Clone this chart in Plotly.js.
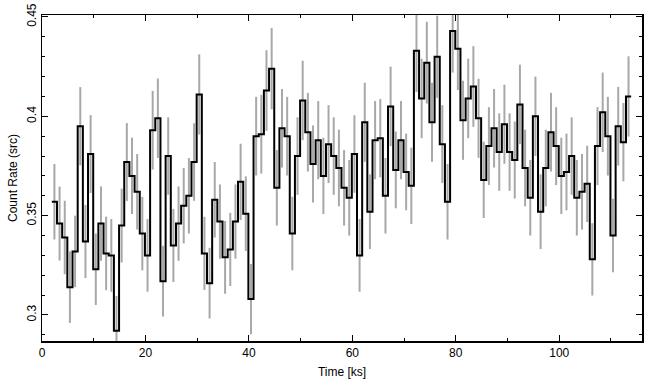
<!DOCTYPE html>
<html>
<head>
<meta charset="utf-8">
<script src="https://cdn.plot.ly/plotly-3.0.1.min.js"></script>
<style>html,body{margin:0;padding:0;background:#fff;}#plot{width:655px;height:389px;}</style>
</head>
<body>
<div id="plot"></div>
<script>
// Bin centres (ks)
var time = [2.4,3.4,4.4,5.4,6.4,7.4,8.4,9.4,10.4,11.4,12.4,13.4,14.4,15.4,16.4,17.4,18.4,19.4,20.4,21.4,
22.4,23.4,24.4,25.4,26.4,27.4,28.4,29.4,30.4,31.4,32.4,33.4,34.4,35.4,36.4,37.4,38.4,39.4,40.4,41.4,
42.4,43.4,44.4,45.4,46.4,47.4,48.4,49.4,50.4,51.4,52.4,53.4,54.4,55.4,56.4,57.4,58.4,59.4,60.4,61.4,
62.4,63.4,64.4,65.4,66.4,67.4,68.4,69.4,70.4,71.4,72.4,73.4,74.4,75.4,76.4,77.4,78.4,79.4,80.4,81.4,
82.4,83.4,84.4,85.4,86.4,87.4,88.4,89.4,90.4,91.4,92.4,93.4,94.4,95.4,96.4,97.4,98.4,99.4,100.4,101.4,
102.4,103.4,104.4,105.4,106.4,107.4,108.4,109.4,110.4,111.4,112.4,113.4];
var binWidth = 1.0;
// Count rate (src)
var rate = [0.357,0.346,0.339,0.314,0.332,0.395,0.337,0.381,0.323,0.346,0.331,0.330,0.292,0.345,0.377,0.370,0.362,0.341,0.330,0.393,
0.399,0.317,0.380,0.335,0.346,0.355,0.360,0.377,0.411,0.331,0.316,0.358,0.347,0.329,0.333,0.347,0.367,0.351,0.308,0.390,
0.391,0.413,0.424,0.364,0.394,0.390,0.341,0.380,0.408,0.392,0.376,0.388,0.370,0.386,0.380,0.374,0.364,0.359,0.381,0.330,
0.397,0.352,0.388,0.389,0.360,0.405,0.373,0.388,0.372,0.365,0.433,0.409,0.427,0.397,0.430,0.386,0.357,0.443,0.434,0.398,
0.409,0.415,0.399,0.368,0.385,0.394,0.382,0.396,0.382,0.378,0.406,0.374,0.359,0.400,0.352,0.374,0.392,0.385,0.370,0.372,
0.380,0.359,0.362,0.366,0.328,0.385,0.402,0.390,0.340,0.395,0.387,0.410];
// 1-sigma errors
var rateErr = [0.019,0.0186,0.0185,0.018,0.018,0.0197,0.0184,0.0196,0.018,0.0187,0.0185,0.0183,0.0175,0.0186,0.0196,0.0192,0.019,0.0185,0.0183,0.0198,
0.02,0.0178,0.0195,0.0184,0.0187,0.019,0.019,0.0195,0.0202,0.0184,0.0178,0.019,0.0187,0.0183,0.0184,0.0187,0.0192,0.0188,0.0177,0.0198,
0.0198,0.0203,0.0205,0.019,0.0198,0.0198,0.0185,0.0195,0.02,0.0198,0.0194,0.0197,0.0192,0.0196,0.0195,0.0193,0.019,0.019,0.0195,0.0183,
0.0199,0.0188,0.0197,0.0197,0.019,0.02,0.0193,0.0197,0.0193,0.0192,0.0208,0.02,0.0206,0.0199,0.0207,0.0196,0.019,0.021,0.0208,0.0199,
0.02,0.0203,0.0199,0.0192,0.0196,0.0198,0.0195,0.0199,0.0195,0.0194,0.02,0.0193,0.019,0.02,0.0188,0.0193,0.0198,0.0196,0.0192,0.0193,
0.0195,0.019,0.019,0.0192,0.0182,0.0196,0.02,0.0198,0.0185,0.0198,0.0197,0.0202];

// Step outline built from bin edges
var edgeX = time.map(function(t){ return t - binWidth/2; });
edgeX.push(time[time.length-1] + binWidth/2);
var edgeY = rate.slice();
edgeY.push(rate[rate.length-1]);

var errTrace = {
  x: time, y: rate, type: 'scatter', mode: 'markers',
  marker: {size: 1, color: 'rgba(0,0,0,0)'},
  error_y: {type: 'data', array: rateErr, visible: true, color: '#a8a8a8', thickness: 2, width: 0},
  hoverinfo: 'skip', showlegend: false
};
var stepTrace = {
  x: edgeX, y: edgeY, type: 'scatter', mode: 'lines',
  line: {shape: 'hv', color: '#000000', width: 2},
  showlegend: false
};

var fontBase = {family: 'Liberation Sans, Arial, sans-serif', size: 12, color: '#000'};
var layout = {
  width: 655, height: 389,
  margin: {l: 42, r: 13, t: 15, b: 48, pad: 0},
  paper_bgcolor: '#fff', plot_bgcolor: '#fff',
  font: fontBase,
  showlegend: false,
  xaxis: {
    range: [0, 116], dtick: 20, tick0: 0,
    ticks: 'inside', ticklen: 6, tickwidth: 1, tickcolor: '#000',
    showline: true, linecolor: '#000', linewidth: 1.5, mirror: 'ticks',
    showgrid: false, zeroline: false,
    minor: {dtick: 10, ticks: 'inside', ticklen: 3, tickcolor: '#000', showgrid: false},
    tickfont: fontBase,
    title: {text: 'Time [ks]', font: fontBase, standoff: 8}
  },
  yaxis: {
    range: [0.2869, 0.451], dtick: 0.05, tick0: 0.3,
    ticks: 'inside', ticklen: 6, tickwidth: 1, tickcolor: '#000',
    showline: true, linecolor: '#000', linewidth: 1.5, mirror: 'ticks',
    showgrid: false, zeroline: false,
    minor: {dtick: 0.01, ticks: 'inside', ticklen: 3, tickcolor: '#000', showgrid: false},
    tickangle: -90,
    tickfont: fontBase,
    title: {text: 'Count Rate (src)', font: fontBase, standoff: 4}
  }
};

Plotly.newPlot('plot', [errTrace, stepTrace], layout, {staticPlot: true, displayModeBar: false});
</script>
</body>
</html>
